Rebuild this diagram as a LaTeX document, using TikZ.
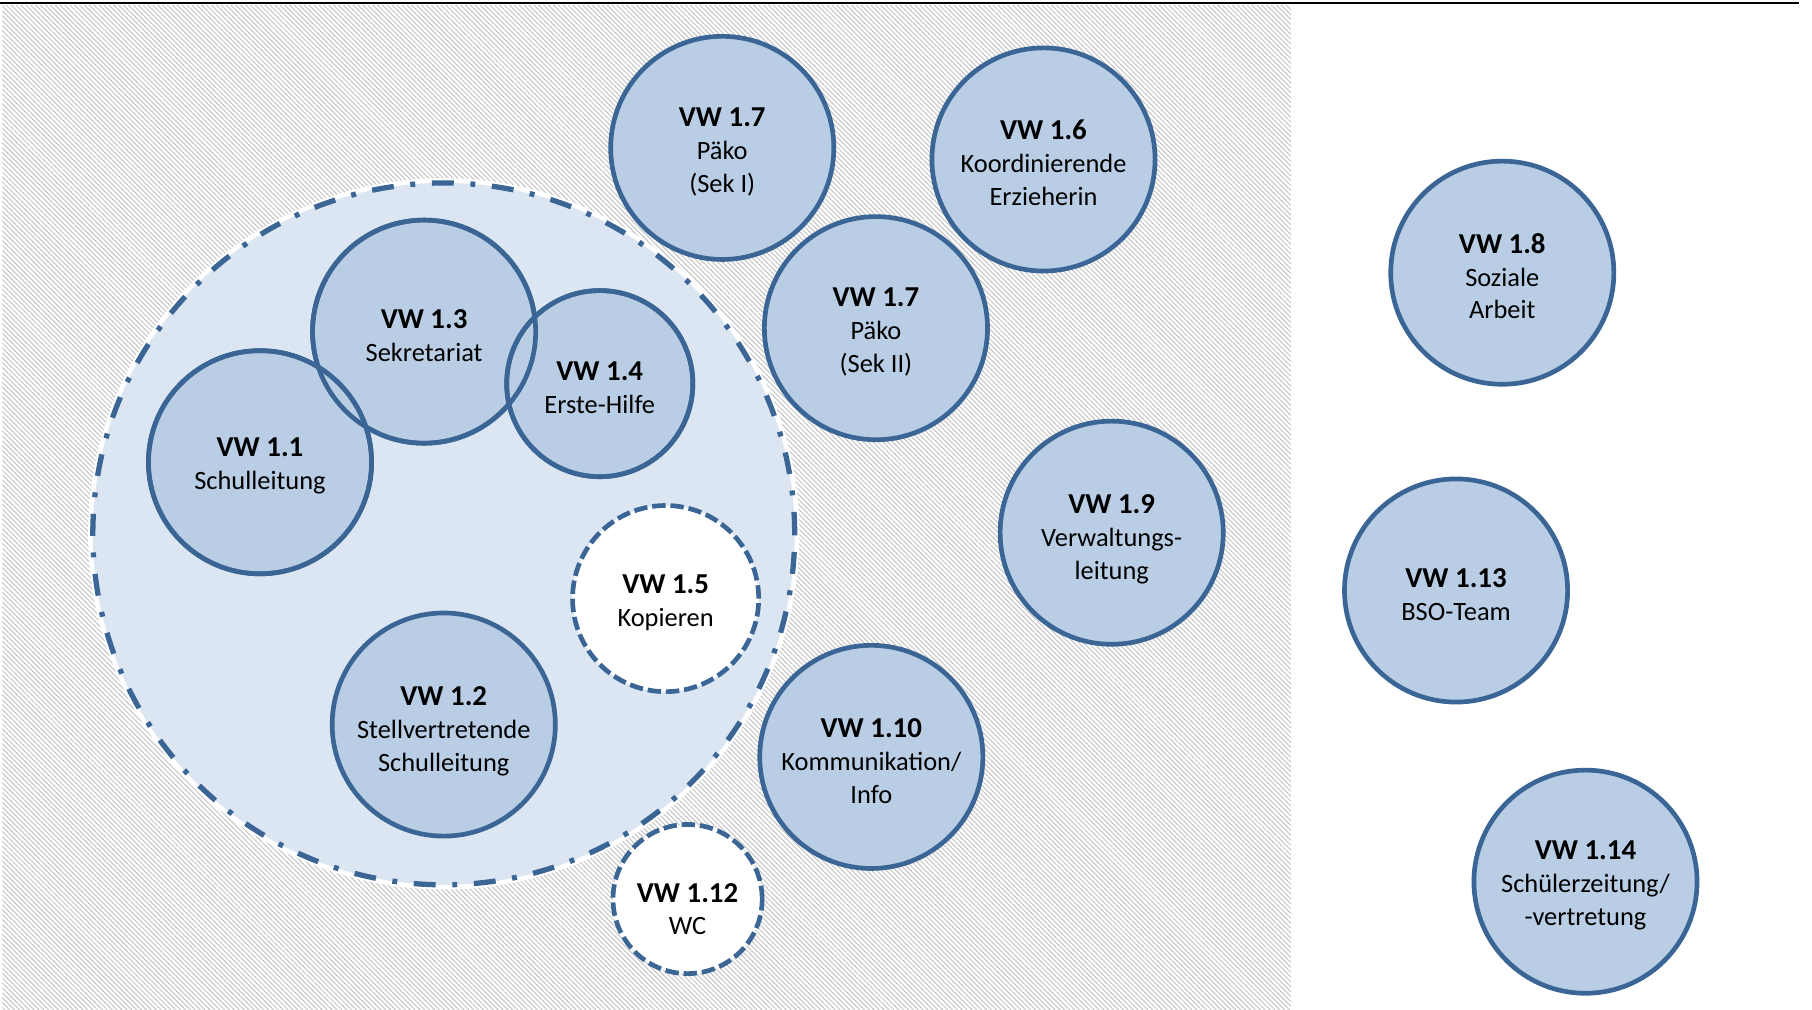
\documentclass[tikz,border=0pt]{standalone}
\usepackage{fontspec}
\setmainfont{Carlito}
\usetikzlibrary{patterns.meta}
\definecolor{vwline}{HTML}{3A6595}
\definecolor{vwfill}{HTML}{B9CDE5}
\definecolor{bigfill}{HTML}{DCE6F2}
\newcommand{\hd}[2][6.6pt]{{\rule{0pt}{#1}\bfseries\fontsize{7.1}{8.1}\selectfont #2}}
\begin{document}
\begin{tikzpicture}[x=0.01cm,y=-0.01cm,
  vw/.style={circle, draw=vwline, line width=1.15pt, fill=vwfill, minimum size=1.93cm,
    inner sep=0pt, align=center, font=\fontsize{6.5}{8.1}\selectfont},
  vwsmall/.style={vw, minimum size=1.61cm},
  vwdash/.style={vw, fill=white, dash pattern=on 3.3pt off 1.2pt},
  outl/.style={draw=vwline, line width=1.15pt},
  group/.style={circle, draw=vwline, fill=bigfill, line width=1.3pt,
    preaction={draw=white, line width=2.3pt, solid},
    dash pattern=on 5.4pt off 4.1pt on 1.2pt off 4.1pt, minimum size=6.07cm, inner sep=0pt}]
\useasboundingbox (0,0) rectangle (1568,874);
\fill[pattern={Lines[angle=-45,distance=0.85pt,line width=0.25pt]}, pattern color=black!23]
  (2,5) rectangle (1117,874);
\draw[line width=0.5pt] (0,3) -- (1557,3);
\node[group] (grp) at (384,462) {};
\node[vw] (v17a) at (625,128) {\hd{VW 1.7}\\Päko\\(Sek I)};
\node[vw] (v16) at (903,138) {\hd{VW 1.6}\\Koordinierende\\Erzieherin};
\node[vw] (v17b) at (758,284) {\hd{VW 1.7}\\Päko\\(Sek II)};
\node[vw] (v18) at (1300,236) {\hd{VW 1.8}\\Soziale\\Arbeit};
\node[vw] (v13) at (367,287) {\hd{VW 1.3}\\Sekretariat};
\node[vwsmall] (v14) at (519,332) {\hd{VW 1.4}\\Erste-Hilfe};
\node[vw] (v11) at (225,400) {\hd{VW 1.1}\\Schulleitung};
\node[vw] (v19) at (962,461) {\hd[8pt]{VW 1.9}\\Verwaltungs-\\leitung};
\node[vwdash, minimum size=1.61cm] (v15) at (576,518) {\hd{VW 1.5}\\Kopieren};
\node[vw] (v113) at (1260,511) {\hd{VW 1.13}\\BSO-Team};
\node[vw] (v12) at (384,627) {\hd[8pt]{VW 1.2}\\Stellvertretende\\Schulleitung};
\node[vw] (v110) at (754,655) {\hd{VW 1.10}\\Kommunikation/\\Info};
\node[vwdash, minimum size=1.29cm] (v112) at (595,778) {\hd[9.6pt]{VW 1.12}\\WC};
\node[vw] (v114) at (1372,763) {\hd{VW 1.14}\\Schülerzeitung/\\-vertretung};
% outlines visible through overlaps
\draw[outl] (v11.center) circle[radius=0.965cm];
\draw[outl] (v13.center) circle[radius=0.965cm];
\draw[outl] (v14.center) circle[radius=0.805cm];
\end{tikzpicture}
\end{document}
